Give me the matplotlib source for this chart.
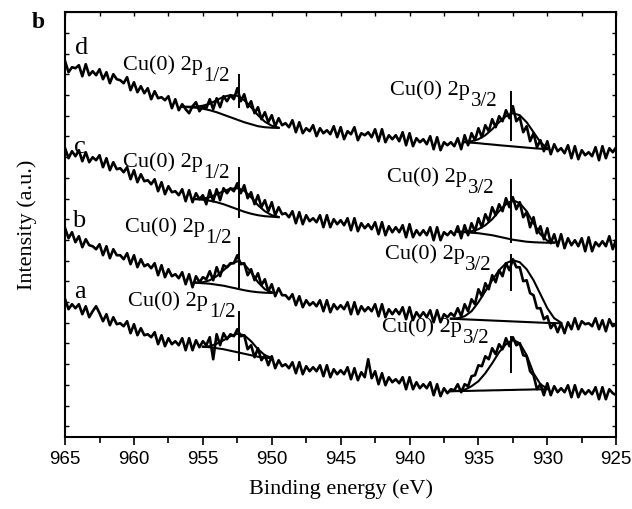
import numpy as np
import matplotlib
matplotlib.use("Agg")
import matplotlib.pyplot as plt
from matplotlib.ticker import MultipleLocator

# binding energy grid, 0.25 eV steps from 965 down to 925
energy = np.linspace(965, 925, 161)

# spectra (arbitrary intensity units), 4 points per eV
spec_d = [
    376, 365, 370, 369,  372, 361, 373, 362,  366, 362, 368, 358,  365, 354, 363, 358,
    357, 354, 360, 347,  355, 345, 351, 344,  349, 338, 346, 339,  340, 337, 341, 329,
    338, 327, 333, 328,  324, 331, 335, 326,  331, 329, 338, 328,  339, 330, 341, 336,
    342, 338, 349, 336,  343, 330, 336, 324,  330, 318, 325, 315,  322, 311, 319, 312,
    314, 310, 317, 305,  315, 304, 309, 306,  312, 301, 309, 304,  307, 303, 311, 300,
    310, 298, 306, 303,  310, 297, 304, 302,  305, 300, 308, 296,  308, 295, 302, 298,
    302, 296, 305, 292,  304, 291, 299, 295,  298, 293, 301, 288,  300, 287, 295, 292,
    295, 291, 299, 288,  302, 292, 304, 297,  309, 300, 312, 306,  318, 310, 321, 316,
    327, 319, 331, 316,  320, 305, 311, 296,  304, 290, 297, 286,  296, 283, 293, 286,
    289, 284, 292, 279,  291, 278, 287, 282,  285, 281, 290, 277,  291, 279, 289, 285,
    290]
spec_c = [
    289, 279, 286, 281,  287, 276, 285, 275,  280, 277, 282, 270,  279, 267, 275, 268,
    269, 265, 270, 258,  267, 255, 263, 256,  257, 253, 258, 246,  255, 243, 251, 245,
    246, 242, 248, 236,  247, 235, 244, 238,  242, 233, 247, 236,  248, 237, 249, 244,
    249, 246, 254, 244,  252, 239, 245, 233,  242, 230, 237, 226,  235, 222, 230, 223,
    224, 220, 226, 214,  225, 213, 222, 216,  219, 215, 222, 210,  222, 210, 218, 213,
    217, 212, 219, 207,  219, 206, 214, 209,  213, 208, 215, 203,  215, 202, 211, 205,
    210, 205, 212, 200,  213, 200, 207, 202,  207, 202, 210, 197,  210, 197, 205, 202,
    206, 202, 211, 199,  212, 202, 214, 206,  219, 210, 223, 216,  230, 222, 233, 226,
    239, 230, 240, 228,  235, 220, 225, 210,  220, 204, 211, 198,  209, 194, 203, 191,
    203, 189, 199, 192,  197, 191, 199, 186,  200, 186, 195, 191,  196, 191, 201, 188,
    198]
spec_b = [
    209, 199, 205, 195,  201, 190, 198, 192,  191, 188, 193, 182,  191, 179, 188, 182,
    182, 178, 184, 173,  182, 170, 178, 171,  173, 169, 174, 162,  172, 160, 168, 161,
    163, 159, 165, 153,  163, 150, 161, 155,  160, 158, 166, 157,  170, 161, 172, 170,
    174, 174, 182, 173,  174, 162, 168, 157,  164, 152, 158, 146,  153, 141, 149, 142,
    142, 138, 143, 132,  141, 130, 137, 132,  135, 131, 137, 126,  137, 125, 133, 128,
    132, 128, 135, 123,  135, 123, 131, 126,  130, 126, 133, 121,  133, 120, 128, 123,
    128, 123, 130, 118,  130, 117, 125, 120,  125, 120, 127, 115,  127, 115, 123, 120,
    124, 121, 129, 121,  133, 126, 138, 133,  148, 141, 154, 148,  162, 155, 167, 161,
    174, 167, 178, 170,  170, 156, 157, 144,  142, 129, 129, 118,  121, 109, 114, 105,
    114, 104, 115, 108,  119, 108, 116, 113,  114, 111, 119, 108,  117, 106, 118, 111,
    113]
spec_a = [
    138, 128, 133, 129,  133, 123, 131, 120,  126, 131, 124, 116,  123, 112, 120, 113,
    114, 111, 116, 104,  113, 102, 109, 102,  103, 100, 105, 93,  102, 91, 99, 93,
    96, 92, 99, 87,  99, 87, 97, 90,  96, 92, 100, 78,  103, 92, 104, 98,
    103, 101, 108, 101,  102, 88, 92, 80,  89, 77, 82, 72,  81, 69, 77, 71,
    73, 69, 75, 64,  75, 63, 71, 66,  70, 66, 72, 61,  72, 60, 68, 63,
    67, 63, 70, 58,  69, 57, 65, 60,  78, 59, 66, 53,  64, 52, 60, 55,
    58, 54, 60, 48,  60, 48, 55, 49,  53, 49, 55, 42,  53, 41, 49, 44,
    48, 47, 53, 45,  53, 51, 61, 62,  72, 71, 81, 78,  89, 83, 93, 88,
    99, 91, 100, 92,  94, 82, 81, 66,  62, 48, 53, 42,  54, 42, 51, 45,
    49, 45, 52, 40,  52, 40, 48, 43,  47, 43, 50, 38,  50, 38, 48, 44,
    42]

# fitted peaks (envelope) and backgrounds
fit_e_12 = {
    "d": [956.5, 956, 955.5, 955, 954.5, 954, 953.5, 953, 952.5, 952, 951.5, 951, 950.5, 950, 949.5],
    "c": [955.5, 955, 954.5, 954, 953.5, 953, 952.5, 952, 951.5, 951, 950.5, 950, 949.5],
    "b": [955.5, 955, 954.5, 954, 953.5, 953, 952.5, 952, 951.5, 951, 950.5, 950],
    "a": [955, 954.5, 954, 953.5, 953, 952.5, 952, 951.5, 951, 950.5, 950],
}
base_12 = {
    "d": [330.5, 330, 329.5, 328.5, 327, 325, 322.5, 320, 317.5, 315, 313, 311, 310, 309.5, 309.3],
    "c": [238, 237.5, 236.5, 235, 233, 230.5, 228, 225.5, 223.5, 222, 221, 220.5, 220],
    "b": [154.5, 154, 153.5, 152.5, 151.5, 150, 148.5, 147, 145.8, 145, 144.5, 144.2],
    "a": [90.5, 90, 89, 88, 86.5, 85, 83.5, 82, 80.5, 79.5, 79],
}
env_12 = {
    "d": [330.6, 330.5, 330.5, 331.5, 333.5, 337, 340.5, 342, 341.5, 337, 330, 322, 315.5, 311.5, 309.5],
    "c": [238.2, 238.5, 240, 243, 246, 248.5, 249, 246.5, 240, 232, 226, 222, 220.3],
    "b": [154.7, 155, 157, 161, 167, 173, 176, 173, 165, 155, 148, 145],
    "a": [90.6, 91, 93.5, 97, 101, 103.5, 102, 96, 88, 82, 79.3],
}
fit_e_32 = {
    "d": [936, 935.5, 935, 934.5, 934, 933.5, 933, 932.5, 932, 931.5, 931, 930.5, 930],
    "c": [936.5, 936, 935.5, 935, 934.5, 934, 933.5, 933, 932.5, 932, 931.5, 931, 930.5, 930, 929.5],
    "b": [937, 936.5, 936, 935.5, 935, 934.5, 934, 933.5, 933, 932.5, 932, 931.5, 931, 930.5, 930, 929.5, 929],
    "a": [937, 936.5, 936, 935.5, 935, 934.5, 934, 933.5, 933, 932.5, 932, 931.5, 931, 930.5, 930],
}
base_32 = {
    "d": [295, 294.5, 294, 293.3, 292.7, 292, 291.4, 290.8, 290.2, 289.6, 289, 288.5, 288],
    "c": [205.5, 205, 204.5, 204, 203, 202, 200.5, 199, 197.5, 196.5, 195.5, 195, 194.7, 194.5, 194.5],
    "b": [118.5, 118.2, 117.9, 117.6, 117.3, 117, 116.7, 116.4, 116.1, 115.8, 115.5, 115.2, 114.9, 114.6, 114.3, 114.1, 114],
    "a": [46, 46.1, 46.3, 46.4, 46.6, 46.7, 46.9, 47, 47.2, 47.3, 47.5, 47.6, 47.8, 47.9, 48],
}
env_32 = {
    "d": [295.2, 296, 298, 302, 308, 315, 321, 324, 322, 315, 305, 295, 289],
    "c": [205.6, 205.5, 206, 208, 212, 218, 226, 233, 237, 234, 226, 214, 203, 196.5, 194.7],
    "b": [118.6, 119, 121, 126, 135, 146, 157, 167, 174, 177, 175, 168, 157, 143, 129, 119, 114.5],
    "a": [46.1, 46.4, 47.5, 51, 56, 64, 74, 85, 93, 97.5, 94, 82, 64, 53, 48.5],
}

# peak position markers: (low, high) intensity
peak_12 = 952.4
peak_32 = 932.6
mark_12 = {"d": (330, 362), "c": (220, 269), "b": (150, 199), "a": (77, 125)}
mark_32 = {"d": (297, 345), "c": (195, 257), "b": (147, 182), "a": (65, 100)}

# label positions (energy, intensity)
letter_pos = {"d": (963.8, 389), "c": (963.9, 290), "b": (964.0, 216), "a": (963.9, 145)}
lab12_pos = {"d": (960.8, 372), "c": (960.8, 275), "b": (960.65, 210), "a": (960.4, 136)}
lab32_pos = {"d": (941.4, 347), "c": (941.6, 260), "b": (941.8, 183), "a": (942.0, 110)}

serif = "Liberation Serif"
sans = "Liberation Sans"

fig = plt.figure(figsize=(6.32, 5.09), dpi=100)
ax = fig.add_axes([0.103, 0.141, 0.872, 0.835])

spectra = {"d": spec_d, "c": spec_c, "b": spec_b, "a": spec_a}
for k in ["a", "b", "c", "d"]:
    ax.plot(energy, spectra[k], color="black", lw=1.9, zorder=2)
    ax.plot(fit_e_12[k], base_12[k], color="black", lw=1.5, zorder=3)
    ax.plot(fit_e_12[k], env_12[k], color="black", lw=1.5, zorder=3)
    ax.plot(fit_e_32[k], base_32[k], color="black", lw=1.5, zorder=3)
    ax.plot(fit_e_32[k], env_32[k], color="black", lw=1.5, zorder=3)
    ax.plot([peak_12, peak_12], mark_12[k], color="black", lw=1.4, zorder=3)
    ax.plot([peak_32, peak_32], mark_32[k], color="black", lw=1.4, zorder=3)

    ax.text(*letter_pos[k], k, fontsize=19, family=serif, ha="center", va="center")
    for pos, sub in [(lab12_pos[k], "1/2"), (lab32_pos[k], "3/2")]:
        t = ax.text(*pos, "Cu(0) 2p", fontsize=16, family=serif, ha="left", va="center")
        ax.annotate(sub, xy=(1, 0.5), xycoords=t, xytext=(0.5, -8),
                    textcoords="offset points", fontsize=15, family=serif,
                    ha="left", va="center")

ax.set_xlim(965, 925)
ax.set_ylim(0, 425)
ax.xaxis.set_major_locator(MultipleLocator(5))
ax.xaxis.set_minor_locator(MultipleLocator(2.5))
ax.tick_params(axis="x", which="major", direction="out", length=6, width=1.2,
               labelsize=13.5, pad=4)
ax.tick_params(axis="x", which="minor", direction="out", length=4, width=1.2)
for lab in ax.get_xticklabels():
    lab.set_family(sans)
ax.set_yticks(np.arange(11, 405, 20.7))
ax.tick_params(axis="y", direction="in", length=3, width=1.0,
               left=True, right=True, labelleft=False)
top = ax.secondary_xaxis("top")
top.set_xticks(np.arange(925, 966, 2.5))
top.tick_params(direction="in", length=3, width=1.0, labeltop=False)
for s in ax.spines.values():
    s.set_linewidth(1.5)

ax.set_xlabel("Binding energy (eV)", fontsize=16, family=serif, labelpad=8)
ax.set_ylabel("Intensity (a.u.)", fontsize=16, family=serif, labelpad=20)
fig.text(38 / 632, 1 - 22 / 509, "b", fontsize=17, fontweight="bold", family=serif,
         ha="center", va="center")

fig.savefig("out.png", dpi=100)
